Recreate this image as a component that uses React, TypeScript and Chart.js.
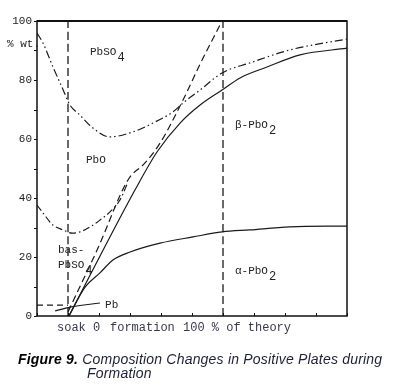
import React, { useEffect, useRef } from "react";
import { Chart, registerables } from "chart.js";

Chart.register(...registerables);

// x: % of theory (negative = soak), y: % wt
const sulfateTopX = [-20, -16.1, -9.7, -3.9, 1.3, 7.7, 16.1, 27.1, 41.9, 54.8, 67.7, 74.2, 85.2, 99.4, 117.4, 143.2, 180];
const sulfateTopY = [95.9, 92.5, 84.4, 77.6, 71.5, 68.1, 63.7, 60.7, 62.4, 65.4, 69.2, 72.2, 76.6, 82.4, 85.8, 90.2, 93.9];

const pboTopX = [-20, -16.1, -9.7, -3.2, 2.6, 7.7, 14.2, 20.6, 27.1, 33.5, 38.7];
const pboTopY = [37.6, 34.9, 30.8, 29.2, 28.1, 28.5, 30.2, 32.5, 35.3, 39.3, 45.4];

const theoryX = [0, 19.4, 38.7, 49.7, 59.4, 74.2, 85.2, 99.4];
const theoryY = [1.4, 23.1, 46.1, 51.9, 58.6, 73.2, 85.4, 100];

const totalPbO2X = [0.6, 43.2, 57.4, 72.3, 85.2, 99.4, 111, 128.4, 149.7, 180];
const totalPbO2Y = [0, 42.7, 55.6, 65.4, 71.5, 76.6, 80.7, 84.4, 88.5, 90.8];

const alphaPbO2X = [0.6, 11, 20.6, 29, 40, 59.4, 80.6, 99.4, 117.4, 143.2, 180];
const alphaPbO2Y = [0, 9.8, 14.6, 19, 21.7, 24.7, 26.8, 28.5, 29.2, 30.2, 30.5];

const pbX = [-8.4, 1.3, 20.6];
const pbY = [1.7, 3, 4.4];

const pbSoakX = [-20, 0];
const pbSoakY = [3.7, 3.7];

const soakEndX = [0, 0];
const formEndX = [100, 100];
const verticalY = [0, 100];

const yTickLabels = ["0", "20", "40", "60", "80", "100"];
const yTickValues = [0, 20, 40, 60, 80, 100];

const xMin = -20;
const xMax = 180;

const zip = (xs: number[], ys: number[]) => xs.map((x, i) => ({ x, y: ys[i] }));

// region labels: [text, subscript, x, y]
const regionLabels: [string, string, number, number][] = [
  ["PbSO", "4", 14.2, 89.5],
  ["PbO", "", 11.6, 52.9],
  ["\u03b2-PbO", "2", 107.7, 64.7],
  ["bas-", "", -6.5, 22.4],
  ["PbSO", "4", -6.5, 17.3],
  ["Pb", "", 23.9, 3.7],
  ["\u03b1-PbO", "2", 107.7, 15.3],
];

const xTitleParts: [string, number][] = [
  ["soak 0", 57],
  ["formation", 110],
  ["100 % of theory", 183],
];

const INK = "#1a1a1a";

const framePlugin = {
  id: "frame",
  afterDraw(chart: any) {
    const { ctx, chartArea, scales } = chart;
    const xs = scales.x;
    const ys = scales.y;
    const { left, right, top, bottom } = chartArea;
    ctx.save();
    ctx.strokeStyle = "#111";
    ctx.lineWidth = 1.5;
    ctx.strokeRect(left, top, right - left, bottom - top);
    ctx.lineWidth = 2;
    ctx.beginPath();
    ctx.moveTo(left, top);
    ctx.lineTo(right, top);
    ctx.stroke();

    ctx.lineWidth = 1;
    for (let v = 0; v <= 100; v += 10) {
      const py = Math.round(ys.getPixelForValue(v)) + 0.5;
      ctx.beginPath();
      ctx.moveTo(left - 3, py);
      ctx.lineTo(left, py);
      ctx.stroke();
    }
    for (let v = xMin; v <= xMax; v += 20) {
      const px = Math.round(xs.getPixelForValue(v)) + 0.5;
      ctx.beginPath();
      ctx.moveTo(px, bottom);
      ctx.lineTo(px, bottom - 3);
      ctx.stroke();
    }

    ctx.fillStyle = "#222";
    ctx.font = "11px 'Liberation Mono', monospace";
    ctx.textAlign = "right";
    ctx.textBaseline = "middle";
    yTickValues.forEach((v, i) => {
      ctx.fillText(yTickLabels[i], left - 5, ys.getPixelForValue(v));
    });
    ctx.textAlign = "left";
    ctx.fillText("% wt.", 7, ys.getPixelForValue(92.3));

    regionLabels.forEach(([t, sub, x, y]) => {
      const px = xs.getPixelForValue(x);
      const py = ys.getPixelForValue(y);
      ctx.font = "11px 'Liberation Mono', monospace";
      ctx.fillText(t, px, py);
      if (sub) {
        const w = ctx.measureText(t).width;
        ctx.font = "12px 'Liberation Mono', monospace";
        ctx.fillText(sub, px + w + 1, py + 6);
      }
    });

    ctx.fillStyle = "#3b3550";
    ctx.font = "12px 'Liberation Mono', monospace";
    ctx.textBaseline = "middle";
    xTitleParts.forEach(([t, px]) => ctx.fillText(t, px, 328));
    ctx.restore();
  },
};

function line(data: { x: number; y: number }[], dash: number[], width = 1.2) {
  return {
    data,
    borderColor: INK,
    borderWidth: width,
    borderDash: dash,
    pointRadius: 0,
    fill: false,
    showLine: true,
    cubicInterpolationMode: "monotone" as const,
  };
}

export default function App() {
  const ref = useRef<HTMLCanvasElement | null>(null);
  useEffect(() => {
    if (!ref.current) return;
    const chart = new Chart(ref.current, {
      type: "scatter",
      data: {
        datasets: [
          line(zip(soakEndX, verticalY), [8, 4], 1.3),
          line(zip(formEndX, verticalY), [8, 4], 1.3),
          line(zip(sulfateTopX, sulfateTopY), [8, 3, 1.5, 3, 1.5, 3]),
          line(zip(pboTopX, pboTopY), [7, 3, 1.5, 3]),
          line(zip(theoryX, theoryY), [7, 4]),
          line(zip(totalPbO2X, totalPbO2Y), []),
          line(zip(alphaPbO2X, alphaPbO2Y), []),
          line(zip(pbX, pbY), []),
          line(zip(pbSoakX, pbSoakY), [6, 4]),
        ] as any,
      },
      options: {
        animation: false,
        responsive: false,
        layout: { padding: { left: 37, right: 53, top: 21, bottom: 71 } },
        plugins: { legend: { display: false }, tooltip: { enabled: false } },
        scales: {
          x: { type: "linear", min: xMin, max: xMax, display: false },
          y: { type: "linear", min: 0, max: 100, display: false },
        },
      },
      plugins: [framePlugin],
    });
    return () => chart.destroy();
  }, []);

  const cap: React.CSSProperties = {
    position: "absolute",
    fontFamily: "'Liberation Sans', Arial, sans-serif",
    fontStyle: "italic",
    fontSize: "14px",
    letterSpacing: "0.2px",
    color: "#1e1e3a",
    whiteSpace: "nowrap",
    lineHeight: "16px",
  };

  return (
    <div style={{ position: "absolute", left: 0, top: 0, width: 400, height: 387, background: "#fff" }}>
      <canvas ref={ref} width={400} height={387} style={{ position: "absolute", left: 0, top: 0 }} />
      <div style={{ ...cap, left: 18, top: 351 }}>
        <b style={{ color: "#000" }}>Figure 9.</b> Composition Changes in Positive Plates during
      </div>
      <div style={{ ...cap, left: 87, top: 365 }}>Formation</div>
    </div>
  );
}
